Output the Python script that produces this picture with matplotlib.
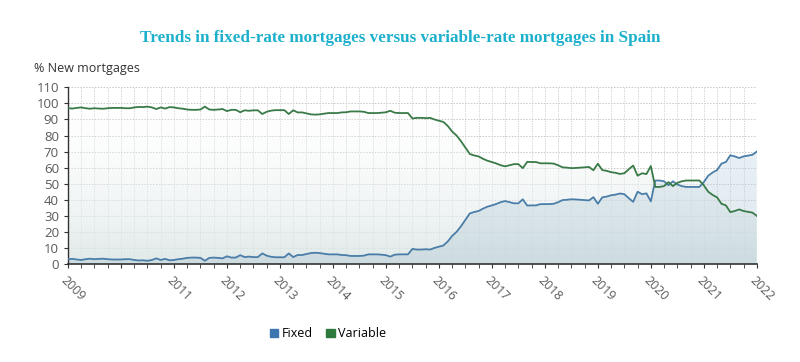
import numpy as np
import matplotlib
matplotlib.use('Agg')
import matplotlib.pyplot as plt
from matplotlib.colors import LinearSegmentedColormap
from matplotlib.patches import Patch

# monthly shares of new mortgages (%), Jan 2009 .. Jan 2022
fixed = [
    3.0, 3.2, 2.8, 2.5, 3.0, 3.3, 3.0, 3.2, 3.3, 3.0, 2.8, 2.8,      # 2009
    2.8, 3.0, 3.0, 2.5, 2.2, 2.3, 2.0, 2.5, 3.5, 2.5, 3.2, 2.3,      # 2010
    2.5, 3.0, 3.3, 3.8, 4.0, 4.0, 3.8, 2.0, 3.8, 4.0, 3.8, 3.5,      # 2011
    4.8, 4.0, 4.0, 5.5, 4.3, 4.6, 4.3, 4.3, 6.6, 5.2, 4.5, 4.2,      # 2012
    4.2, 4.2, 6.6, 4.3, 5.6, 5.6, 6.2, 6.8, 7.0, 6.8, 6.4, 6.0,      # 2013
    6.0, 6.0, 5.6, 5.5, 5.0, 5.0, 5.0, 5.2, 6.0, 6.0, 6.0, 5.8,      # 2014
    5.5, 4.6, 5.8, 6.0, 6.0, 6.0, 9.4, 9.0, 9.0, 9.2, 9.0, 10.0,     # 2015
    10.8, 11.5, 14.0, 17.5, 20.0, 23.5, 27.5, 31.5, 32.4, 33.0, 34.5, 35.7,  # 2016
    36.5, 37.4, 38.5, 39.2, 38.5, 37.8, 37.8, 40.3, 36.4, 36.5, 36.5, 37.3,  # 2017
    37.3, 37.3, 37.5, 38.5, 39.8, 40.0, 40.3, 40.2, 40.0, 39.8, 39.6, 41.6,  # 2018
    37.5, 41.5, 42.0, 42.8, 43.2, 43.9, 43.5, 41.0, 38.7, 45.0, 43.5, 44.0,  # 2019
    39.0, 52.0, 52.0, 51.5, 49.0, 51.5, 49.5, 48.5, 48.0, 48.0, 48.0, 48.0,  # 2020
    51.0, 55.0, 57.0, 58.5, 62.5, 63.5, 67.7, 67.0, 66.0, 67.0, 67.5, 68.0,  # 2021
    70.0,
]
variable = [
    97.0, 96.8, 97.2, 97.5, 97.0, 96.7, 97.0, 96.8, 96.7, 97.0, 97.2, 97.2,
    97.2, 97.0, 97.0, 97.5, 97.8, 97.7, 98.0, 97.5, 96.5, 97.5, 96.8, 97.7,
    97.5, 97.0, 96.7, 96.2, 96.0, 96.0, 96.2, 98.0, 96.2, 96.0, 96.2, 96.5,
    95.2, 96.0, 96.0, 94.5, 95.7, 95.4, 95.7, 95.7, 93.4, 94.8, 95.5, 95.8,
    95.8, 95.8, 93.4, 95.7, 94.4, 94.4, 93.8, 93.2, 93.0, 93.2, 93.6, 94.0,
    94.0, 94.0, 94.4, 94.5, 95.0, 95.0, 95.0, 94.8, 94.0, 94.0, 94.0, 94.2,
    94.5, 95.4, 94.2, 94.0, 94.0, 94.0, 90.6, 91.0, 91.0, 90.8, 91.0, 90.0,
    89.2, 88.5, 86.0, 82.5, 80.0, 76.5, 72.5, 68.5, 67.6, 67.0, 65.5, 64.3,
    63.5, 62.6, 61.5, 60.8, 61.5, 62.2, 62.2, 59.7, 63.6, 63.5, 63.5, 62.7,
    62.7, 62.7, 62.5, 61.5, 60.2, 60.0, 59.7, 59.8, 60.0, 60.2, 60.4, 58.4,
    62.5, 58.5, 58.0, 57.2, 56.8, 56.1, 56.5, 59.0, 61.3, 55.0, 56.5, 56.0,
    61.0, 48.0, 48.0, 48.5, 51.0, 48.5, 50.5, 51.5, 52.0, 52.0, 52.0, 52.0,
    49.0, 45.0, 43.0, 41.5, 37.5, 36.5, 32.3, 33.0, 34.0, 33.0, 32.5, 32.0,
    30.0,
]
years = [2009, 2010, 2011, 2012, 2013, 2014, 2015, 2016, 2017, 2018, 2019, 2020, 2021, 2022]
year_labels = ['2009', '', '2011', '2012', '2013', '2014', '2015', '2016',
               '2017', '2018', '2019', '2020', '2021', '2022']

months = np.arange(len(fixed))

sans = ['Open Sans', 'DejaVu Sans']
fig = plt.figure(figsize=(8, 3.62), dpi=100)
ax = fig.add_axes([0.085, 0.2707, 0.861, 0.488])

ymax = 110
xmax = months[-1]


def gradient_fill(x, y, top, bottom, z):
    # area under a series, shaded by a vertical gradient
    poly = ax.fill_between(x, 0, y, color='none', lw=0)
    cmap = LinearSegmentedColormap.from_list('g', [bottom, top])
    grad = np.linspace(0, 1, 256).reshape(-1, 1)
    im = ax.imshow(grad, extent=[0, xmax, 0, ymax], aspect='auto', origin='lower',
                   cmap=cmap, zorder=z)
    im.set_clip_path(poly.get_paths()[0], transform=ax.transData)


gradient_fill(months, variable, (1, 1, 1, 0.0), (0.86, 0.90, 0.90, 0.85), 1)
gradient_fill(months, fixed, (0.76, 0.86, 0.92, 0.3), (0.72, 0.80, 0.84, 0.45), 1.1)

ax.plot(months, fixed, color='#4a7ea8', lw=1.3, zorder=3)
ax.plot(months, variable, color='#3a7a48', lw=1.3, zorder=3)

ax.set_xlim(0, xmax)
ax.set_ylim(0, ymax)
ax.set_yticks(range(0, 111, 10))
ax.set_xticks([(y - 2009) * 12 for y in years])
ax.set_xticklabels(year_labels, rotation=-45, ha='left', va='top',
                   rotation_mode='anchor', family=sans, fontsize=9, color='#5a5a5a')
ax.set_xticks(np.arange(0, xmax + 1, 3), minor=True)
ax.tick_params(axis='x', which='both', length=3, color='#333333', pad=4)
ax.tick_params(axis='y', length=3, color='#333333', labelsize=9.5, labelcolor='#5a5a5a')
for lab in ax.get_yticklabels():
    lab.set_family(sans)

ax.grid(which='both', color='#cccccc', lw=0.6, ls=(0, (1.5, 1.5)))
ax.grid(which='major', axis='y', color='#c8c8c8', lw=0.7, ls=(0, (1.5, 1.5)))
for s in ['top', 'right']:
    ax.spines[s].set_visible(False)
ax.spines['left'].set_color('#333333')
ax.spines['bottom'].set_color('#333333')
ax.spines['left'].set_linewidth(1.0)
ax.spines['bottom'].set_linewidth(1.2)
ax.set_axisbelow(True)

fig.text(0.5, 0.895, 'Trends in fixed-rate mortgages versus variable-rate mortgages in Spain',
         ha='center', va='center', family='Liberation Serif', weight='bold',
         fontsize=12.3, color='#1cb0cc')
fig.text(0.043, 0.812, '% New mortgages', ha='left', va='center', family=sans,
         fontsize=9, color='#333333')

handles = [Patch(color='#3c76b0', label='Fixed'), Patch(color='#2e7a3c', label='Variable')]
fig.legend(handles=handles, loc='center', bbox_to_anchor=(0.41, 0.078), ncol=2,
           frameon=False, handlelength=0.7, handleheight=0.7, handletextpad=0.3,
           columnspacing=1.0, prop={'family': sans, 'size': 9})

fig.savefig('out.png', dpi=100)
